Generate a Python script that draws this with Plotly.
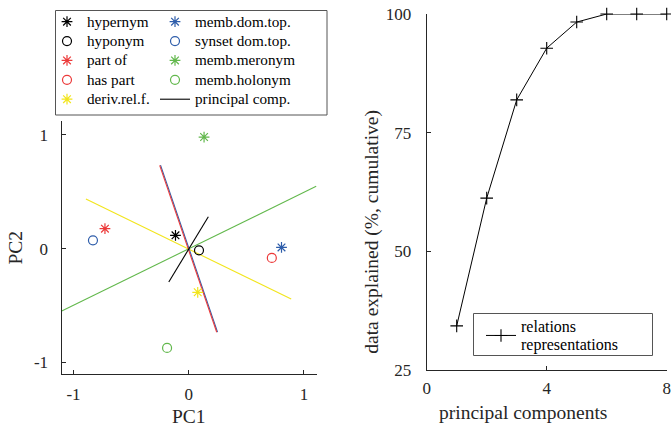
import plotly.graph_objects as go

W, H = 671, 426

# ---------------- data ----------------
relation_names = ["hypernym", "hyponym", "part of", "has part", "deriv.rel.f.",
                  "memb.dom.top.", "synset dom.top.", "memb.meronym", "memb.holonym"]
pc1_scores = [-0.115, 0.089, -0.727, 0.721, 0.078, 0.805, -0.831, 0.133, -0.188]
pc2_scores = [0.117, -0.015, 0.176, -0.082, -0.384, 0.011, 0.073, 0.982, -0.874]

# principal-component directions (end points, PC1/PC2)
direction_names = ["memb", "deriv", "dom", "part", "principal comp."]
direction_pc1 = [[-1.102, 1.106], [-0.892, 0.889], [-0.245, 0.250], [-0.252, 0.243], [-0.173, 0.170]]
direction_pc2 = [[-0.549, 0.548], [0.436, -0.443], [0.735, -0.735], [0.733, -0.736], [-0.293, 0.280]]

components = [1, 2, 3, 4, 5, 6, 7, 8]
explained_cum = [34.3, 61.2, 81.9, 92.8, 98.3, 100.0, 100.0, 100.0]

pc_ticks = [-1, 0, 1]
pc_ticktext = ["-1", "0", "1"]
comp_ticks = [0, 4, 8]
expl_ticks = [25, 50, 75, 100]

# ---------------- styles ----------------
BLACK = "#000000"
RED = "#EC3A3A"
YELLOW = "#F2E51C"
BLUE = "#2E5DAA"
GREEN = "#62B84C"
AX = "#262626"
FONT = '"Liberation Serif", "Times New Roman", Times, serif'

point_style = {
    "hypernym": (BLACK, "asterisk-open", "legend"),
    "hyponym": (BLACK, "circle-open", "legend"),
    "part of": (RED, "asterisk-open", "legend"),
    "has part": (RED, "circle-open", "legend"),
    "deriv.rel.f.": (YELLOW, "asterisk-open", "legend"),
    "memb.dom.top.": (BLUE, "asterisk-open", "legend3"),
    "synset dom.top.": (BLUE, "circle-open", "legend3"),
    "memb.meronym": (GREEN, "asterisk-open", "legend3"),
    "memb.holonym": (GREEN, "circle-open", "legend3"),
}
line_style = {
    "memb": GREEN, "deriv": YELLOW, "dom": BLUE, "part": RED, "principal comp.": BLACK,
}


def big(label, size):
    return '<span style="font-size:%spx">%s</span>' % (size, label)


fig = go.Figure()

# direction lines
for name, xs, ys in zip(direction_names, direction_pc1, direction_pc2):
    is_pc = name == "principal comp."
    fig.add_trace(go.Scatter(
        x=xs, y=ys, mode="lines", name=big(name, 15.2),
        line=dict(color=line_style[name], width=1.1),
        showlegend=is_pc, legend="legend3", legendrank=2000 if is_pc else 1000,
        xaxis="x", yaxis="y", hoverinfo="skip"))

# relation points
for i, (name, px, py) in enumerate(zip(relation_names, pc1_scores, pc2_scores)):
    col, sym, leg = point_style[name]
    fig.add_trace(go.Scatter(
        x=[px], y=[py], mode="markers", name=big(name, 15.2),
        marker=dict(symbol=sym, size=9, color=col, line=dict(color=col, width=1.2)),
        legend=leg, legendrank=i, xaxis="x", yaxis="y"))

# cumulative explained
fig.add_trace(go.Scatter(
    x=components, y=explained_cum, mode="lines+markers",
    name=big("relations", 16) + "<br>" + big("representations", 16),
    line=dict(color=BLACK, width=1),
    marker=dict(symbol="cross-thin-open", size=9, color=BLACK,
                line=dict(color=BLACK, width=1.1)),
    cliponaxis=False, legend="legend2", xaxis="x2", yaxis="y2"))


def px_x(p):
    return p / W


def px_y(p):
    return 1 - p / H


axis_common = dict(
    showline=True, linecolor=AX, linewidth=1, ticks="inside", ticklen=4,
    tickcolor=AX, tickwidth=1, showgrid=False, zeroline=False, mirror=False,
    automargin=False, tickfont=dict(family=FONT, size=17, color=AX), fixedrange=True,
)

legend_common = dict(xanchor="left", yanchor="top", bgcolor="rgba(0,0,0,0)",
                     borderwidth=0, traceorder="normal", tracegroupgap=0, itemwidth=30)

fig.update_layout(
    template="none",
    width=W, height=H, margin=dict(l=0, r=0, t=0, b=0, autoexpand=False),
    paper_bgcolor="white", plot_bgcolor="white",
    font=dict(family=FONT, color=AX),
    xaxis=dict(domain=[px_x(61.5), px_x(317)], range=[-1.104, 1.113],
               tickvals=pc_ticks, ticktext=pc_ticktext, ticklabelstandoff=5,
               anchor="y", **axis_common),
    yaxis=dict(domain=[px_y(374), px_y(121)], range=[-1.103, 1.123],
               tickvals=pc_ticks, ticktext=pc_ticktext, ticklabelstandoff=9,
               anchor="x", **axis_common),
    xaxis2=dict(domain=[px_x(426.7), px_x(666.7)], range=[0, 8],
                tickvals=comp_ticks, ticklabelstandoff=3, anchor="y2", **axis_common),
    yaxis2=dict(domain=[px_y(370), px_y(14)], range=[25, 100],
                tickvals=expl_ticks, ticklabelstandoff=11, anchor="x2", **axis_common),
    legend=dict(x=px_x(47), y=px_y(7), font=dict(family=FONT, size=12.6, color="#000"),
                **legend_common),
    legend3=dict(x=px_x(155), y=px_y(7), font=dict(family=FONT, size=12.6, color="#000"),
                 **legend_common),
    legend2=dict(x=px_x(481), y=px_y(311), font=dict(family=FONT, size=13.8, color="#000"),
                 **legend_common),
    showlegend=True,
    shapes=[
        dict(type="rect", xref="paper", yref="paper",
             x0=px_x(55.5), x1=px_x(327), y0=px_y(115), y1=px_y(10.5),
             line=dict(color="#555", width=1)),
        dict(type="rect", xref="paper", yref="paper",
             x0=px_x(473.5), x1=px_x(652.5), y0=px_y(355.5), y1=px_y(313.5),
             line=dict(color="#555", width=1)),
    ],
    annotations=[
        dict(text="PC1", xref="paper", yref="paper", x=px_x(189), y=px_y(416),
             xanchor="center", yanchor="middle", height=18, valign="middle",
             showarrow=False, font=dict(family=FONT, size=19.5, color=AX)),
        dict(text="PC2", xref="paper", yref="paper", x=px_x(15), y=px_y(247.5),
             xanchor="center", yanchor="middle", textangle=-90, showarrow=False,
             font=dict(family=FONT, size=19.5, color=AX)),
        dict(text="principal components", xref="paper", yref="paper",
             x=px_x(523), y=px_y(412), xanchor="center", yanchor="middle",
             showarrow=False, font=dict(family=FONT, size=19.5, color=AX)),
        dict(text="data explained (%, cumulative)", xref="paper", yref="paper",
             x=px_x(371.7), y=px_y(232), xanchor="center", yanchor="middle",
             textangle=-90, showarrow=False,
             font=dict(family=FONT, size=19.5, color=AX)),
    ],
)

fig.write_html("out.html", config={"displayModeBar": False},
               post_script="document.body.style.margin='0';document.body.style.overflow='hidden';")
